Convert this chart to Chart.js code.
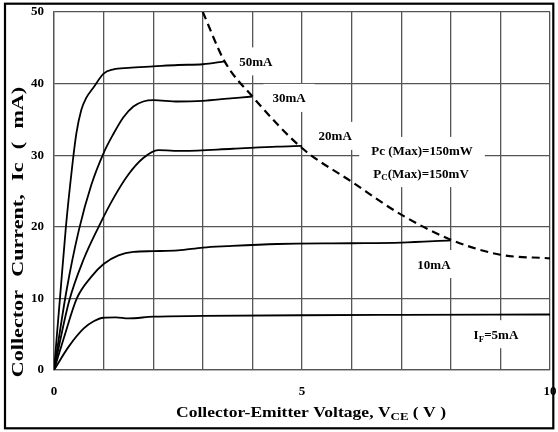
<!DOCTYPE html>
<html lang="en">
<head>
    <meta charset="UTF-8">
    <title>Collector Current vs Collector-Emitter Voltage</title>
    <script src="https://cdn.jsdelivr.net/npm/chart.js@4.4.1/dist/chart.umd.min.js"></script>
    <style>
        body {
            margin: 0;
            background: #ffffff;
        }
        canvas {
            display: block;
        }
    </style>
</head>
<body>
    <canvas id="myChart" width="558" height="432"></canvas>

    <script>
        // Output curves: VCE (V) and Ic (mA)
        const vce5mA = [0, 0.3, 0.6, 0.8, 1.0, 1.25, 1.5, 2.0, 3.0, 5.0, 7.0, 10.0];
        const ic5mA = [0, 3.3, 5.8, 6.8, 7.3, 7.35, 7.2, 7.45, 7.55, 7.65, 7.7, 7.75];

        const vce10mA = [0, 0.2, 0.46, 0.75, 1.0, 1.3, 1.6, 2.0, 2.5, 3.0, 3.5, 4.5, 6.0, 7.0, 8.0];
        const ic10mA = [0, 4.5, 10, 13, 14.8, 16, 16.5, 16.6, 16.7, 17.1, 17.3, 17.6, 17.7, 17.8, 18.1];

        const vce20mA = [0, 0.3, 0.6, 0.9, 1.2, 1.5, 1.8, 2.1, 2.6, 3.6, 4.5, 5.0];
        const ic20mA = [0, 9.5, 15.5, 20, 24, 27.3, 29.6, 30.7, 30.6, 30.9, 31.2, 31.3];

        const vce30mA = [0, 0.25, 0.5, 0.75, 1.0, 1.2, 1.4, 1.6, 1.8, 2.0, 2.5, 3.0, 3.5, 4.0];
        const ic30mA = [0, 11, 19.5, 25.8, 30.3, 33, 35.3, 36.8, 37.5, 37.7, 37.5, 37.6, 37.9, 38.2];

        const vce50mA = [0, 0.12, 0.24, 0.36, 0.45, 0.55, 0.65, 0.8, 1.0, 1.2, 1.5, 2.0, 2.5, 3.0, 3.44];
        const ic50mA = [0, 10, 20, 28, 33, 36.3, 38, 39.5, 41.4, 42.0, 42.2, 42.4, 42.6, 42.7, 43.1];

        // Pc(max) dissipation limit (dashed)
        const vcePc = [3.0, 3.44, 4.0, 5.0, 6.0, 7.0, 8.0, 9.0, 10.0];
        const icPc = [50, 43.1, 38.2, 31.0, 26.3, 21.7, 18.2, 16.1, 15.6];

        const xTickLabels = [0, 5, 10];
        const yTickLabels = [0, 10, 20, 30, 40, 50];

        // curve annotations (centre of text, in axis units)
        const labelTexts = ['50mA', '30mA', '20mA', 'Pc (Max)=150mW', 'P_C(Max)=150mV', '10mA', 'I_F=5mA'];
        const labelVce = [4.07, 4.74, 5.67, 7.42, 7.40, 7.66, 8.91];
        const labelIc = [43.1, 38.0, 32.7, 30.6, 27.5, 14.8, 5.0];

        const serif = "'Liberation Serif', 'Times New Roman', serif";

        function toPoints(xs, ys) {
            return xs.map((x, i) => ({ x: x, y: ys[i] }));
        }

        // split "P_C(Max)" style text into plain/subscript pieces
        function splitSub(text) {
            const m = text.match(/^([^_]*)_([A-Z]+)(.*)$/);
            if (!m) return [{ t: text, sub: false }];
            return [{ t: m[1], sub: false }, { t: m[2], sub: true }, { t: m[3], sub: false }];
        }

        function drawRich(ctx, pieces, size, cx, cy) {
            const main = 'bold ' + size + 'px ' + serif;
            const small = 'bold ' + Math.round(size * 0.72) + 'px ' + serif;
            let total = 0;
            pieces.forEach(p => {
                ctx.font = p.sub ? small : main;
                p.w = ctx.measureText(p.t).width;
                total += p.w;
            });
            let x = cx - total / 2;
            ctx.textAlign = 'left';
            ctx.textBaseline = 'alphabetic';
            pieces.forEach(p => {
                ctx.font = p.sub ? small : main;
                ctx.fillText(p.t, x, cy + (p.sub ? size * 0.22 : 0));
                x += p.w;
            });
            return total;
        }

        const annotations = {
            id: 'annotations',
            beforeDraw(chart) {
                const ctx = chart.ctx;
                ctx.save();
                ctx.fillStyle = '#ffffff';
                ctx.fillRect(0, 0, chart.width, chart.height);
                ctx.restore();
            },
            beforeDatasetsDraw(chart) {
                // white boxes behind the curve labels cut the grid
                const ctx = chart.ctx;
                const xs = chart.scales.x, ys = chart.scales.y;
                ctx.save();
                ctx.fillStyle = '#ffffff';
                labelTexts.forEach((txt, i) => {
                    ctx.font = 'bold 13px ' + serif;
                    const w = ctx.measureText(txt.replace('_', '')).width;
                    const cx = xs.getPixelForValue(labelVce[i]);
                    const cy = ys.getPixelForValue(labelIc[i]);
                    const padX = txt.indexOf('Max') >= 0 ? 12 : 9;
                    ctx.fillRect(cx - w / 2 - padX, cy - 14, w + padX * 2, 28);
                });
                ctx.restore();
            },
            afterDatasetsDraw(chart) {
                const ctx = chart.ctx;
                const xs = chart.scales.x, ys = chart.scales.y;
                ctx.save();
                ctx.fillStyle = '#000000';
                labelTexts.forEach((txt, i) => {
                    const cx = xs.getPixelForValue(labelVce[i]);
                    const cy = ys.getPixelForValue(labelIc[i]);
                    drawRich(ctx, splitSub(txt), 13, cx, cy + 4.5);
                });
                ctx.restore();
            },
            afterDraw(chart) {
                const ctx = chart.ctx;
                const area = chart.chartArea;
                ctx.save();
                ctx.fillStyle = '#000000';

                // x axis title, slightly stretched like the original
                ctx.save();
                ctx.translate((area.left + area.right) / 2 + 9, 416.5);
                ctx.scale(1.17, 1);
                drawRich(ctx, [
                    { t: 'Collector-Emitter Voltage, V', sub: false },
                    { t: 'CE', sub: true },
                    { t: ' ( V )', sub: false }
                ], 15, 0, 0);
                ctx.restore();

                // y axis title
                ctx.save();
                ctx.translate(23, 232);
                ctx.rotate(-Math.PI / 2);
                ctx.scale(1.3, 1);
                if ('wordSpacing' in ctx) ctx.wordSpacing = '6px';
                drawRich(ctx, [{ t: 'Collector Current, Ic ( mA)', sub: false }], 17, 0, 0);
                ctx.restore();

                // outer frame
                ctx.strokeStyle = '#000000';
                ctx.lineWidth = 2.2;
                ctx.strokeRect(5, 3.7, 548.3, 424.6);
                ctx.restore();
            }
        };

        const curveStyle = {
            borderColor: '#000000',
            borderWidth: 1.8,
            pointRadius: 0,
            fill: false,
            cubicInterpolationMode: 'monotone'
        };

        const ctx = document.getElementById('myChart').getContext('2d');
        const myChart = new Chart(ctx, {
            type: 'line',
            data: {
                datasets: [
                    Object.assign({ label: '5mA', data: toPoints(vce5mA, ic5mA) }, curveStyle),
                    Object.assign({ label: '10mA', data: toPoints(vce10mA, ic10mA) }, curveStyle),
                    Object.assign({ label: '20mA', data: toPoints(vce20mA, ic20mA) }, curveStyle),
                    Object.assign({ label: '30mA', data: toPoints(vce30mA, ic30mA) }, curveStyle),
                    Object.assign({ label: '50mA', data: toPoints(vce50mA, ic50mA) }, curveStyle),
                    Object.assign({ label: 'Pc(Max)', data: toPoints(vcePc, icPc) }, curveStyle,
                        { borderWidth: 2.2, borderDash: [8, 5] })
                ]
            },
            options: {
                responsive: false,
                animation: false,
                devicePixelRatio: 1,
                layout: {
                    padding: { top: 12, right: 8, left: 0, bottom: 0 }
                },
                plugins: {
                    legend: { display: false },
                    tooltip: { enabled: false }
                },
                scales: {
                    x: {
                        type: 'linear',
                        min: 0,
                        max: 10,
                        afterFit: s => {
                            s.height = 62;
                            s.paddingLeft = 0;
                            s.paddingRight = 0;
                        },
                        ticks: {
                            stepSize: 1,
                            autoSkip: false,
                            maxRotation: 0,
                            padding: 14,
                            color: '#000000',
                            font: { family: serif, size: 13, weight: 'bold' },
                            callback: v => xTickLabels.includes(v) ? String(v) : ''
                        },
                        grid: { color: '#555555', lineWidth: 1.3, drawTicks: false },
                        border: { color: '#555555', width: 1.3 }
                    },
                    y: {
                        min: 0,
                        max: 50,
                        afterFit: s => {
                            s.width = 54;
                            s.paddingTop = 0;
                            s.paddingBottom = 0;
                        },
                        ticks: {
                            stepSize: 10,
                            padding: 10,
                            color: '#000000',
                            font: { family: serif, size: 13, weight: 'bold' },
                            callback: v => yTickLabels.includes(v) ? String(v) : ''
                        },
                        grid: { color: '#555555', lineWidth: 1.3, drawTicks: false },
                        border: { color: '#555555', width: 1.3 }
                    }
                }
            },
            plugins: [annotations]
        });
    </script>
</body>
</html>
